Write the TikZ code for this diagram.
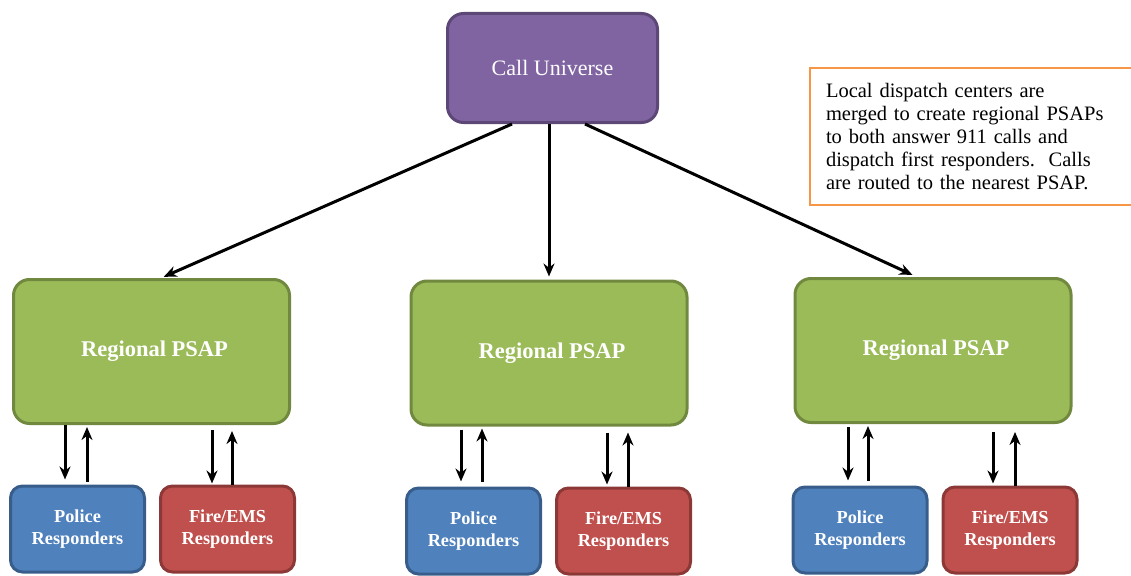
\documentclass[tikz,border=0pt]{standalone}
\usepackage{fontspec}
\setmainfont{Liberation Serif}
\usetikzlibrary{arrows.meta}

\definecolor{cufill}{HTML}{8064A2}
\definecolor{cudraw}{HTML}{5C4776}
\definecolor{psfill}{HTML}{9BBB59}
\definecolor{psdraw}{HTML}{71893F}
\definecolor{pofill}{HTML}{4F81BD}
\definecolor{podraw}{HTML}{385D8A}
\definecolor{fifill}{HTML}{C0504D}
\definecolor{fidraw}{HTML}{8C3836}
\definecolor{notedraw}{HTML}{F79646}

\tikzset{
	hub/.style={rectangle, rounded corners=16pt, line width=3pt, draw=cudraw, fill=cufill, text=white, minimum width=210pt, minimum height=109pt, font=\fontsize{22}{26}\selectfont},
	psap/.style={rectangle, rounded corners=16pt, line width=3pt, draw=psdraw, fill=psfill, text=white, minimum width=276pt, minimum height=144pt, font=\fontsize{22.5}{26}\selectfont\bfseries},
	resp/.style={rectangle, rounded corners=12pt, line width=3pt, text=white, minimum width=134pt, minimum height=86pt, align=center, font=\fontsize{18.3}{21.5}\selectfont\bfseries},
	police/.style={resp, draw=podraw, fill=pofill},
	fire/.style={resp, draw=fidraw, fill=fifill},
	note/.style={rectangle, line width=2.5pt, draw=notedraw, fill=white, text width=290pt, inner xsep=16pt, align=left, minimum height=137pt, font=\fontsize{20.5}{23}\selectfont},
	arr/.style={-{Stealth[length=13pt,width=11pt]}, line width=3pt}
}

\begin{document}
\begin{tikzpicture}[x=1pt,y=-1pt]
	\useasboundingbox (0,0) rectangle (1131,575);
	\clip (0,0) rectangle (1131,575);

	\node 	(cu)	at	(552.5,68) 	[hub]{Call Universe};

	\node 	(note)	at	(971,136.5) 	[note]{Local dispatch centers are\\merged to create regional PSAPs\\to both answer 911 calls and\\dispatch first responders.\ \ Calls\\are routed to the nearest PSAP.};

	\node 	(r1)	at	(151.5,351.5) 	[psap]{\hspace{6pt}Regional PSAP};
	\node 	(r2)	at	(549,353) 	[psap]{\hspace{6pt}Regional PSAP};
	\node 	(r3)	at	(933,350.5) 	[psap]{\hspace{6pt}Regional PSAP};

	\node 	(p1)	at	(77.5,529) 	[police]{Police\\Responders};
	\node 	(f1)	at	(227.5,529) 	[fire]{Fire/EMS\\Responders};
	\node 	(p2)	at	(473.5,531) 	[police]{Police\\Responders};
	\node 	(f2)	at	(623.5,531) 	[fire]{Fire/EMS\\Responders};
	\node 	(p3)	at	(860,530) 	[police]{Police\\Responders};
	\node 	(f3)	at	(1010,530) 	[fire]{Fire/EMS\\Responders};

	\draw[arr,shorten >=3pt] ([xshift=-40.5pt]cu.south) to 	(r1.north -| 161,0);
	\draw[arr,shorten >=3pt] ([xshift=-3.5pt]cu.south) to 	(r2.north -| 549,0);
	\draw[arr,shorten >=5pt] ([xshift=32.5pt]cu.south) to 	(r3.north -| 917,0);

	\draw[arr,shorten >=5pt] (65,0 |- r1.south) to 	(65,0 |- p1.north);
	\draw[arr,shorten <=3pt,shorten >=2pt] (87,0 |- p1.north) to 	(87,0 |- r1.south);
	\draw[arr,shorten <=5pt,shorten >=1pt] (212,0 |- r1.south) to 	(212,0 |- f1.north);
	\draw[arr,shorten >=6pt] (232,0 |- f1.north) to 	(232,0 |- r1.south);

	\draw[arr,shorten <=3pt,shorten >=5pt] (461,0 |- r2.south) to 	(461,0 |- p2.north);
	\draw[arr,shorten <=5pt,shorten >=2pt] (482,0 |- p2.north) to 	(482,0 |- r2.south);
	\draw[arr,shorten <=6pt,shorten >=2pt] (607,0 |- r2.south) to 	(607,0 |- f2.north);
	\draw[arr,shorten >=6pt] (628,0 |- f2.north) to 	(628,0 |- r2.south);

	\draw[arr,shorten <=3pt,shorten >=5pt] (848,0 |- r3.south) to 	(848,0 |- p3.north);
	\draw[arr,shorten <=5pt,shorten >=2pt] (868,0 |- p3.north) to 	(868,0 |- r3.south);
	\draw[arr,shorten <=8pt,shorten >=2pt] (993,0 |- r3.south) to 	(993,0 |- f3.north);
	\draw[arr,shorten >=8pt] (1015,0 |- f3.north) to 	(1015,0 |- r3.south);

\end{tikzpicture}
\end{document}
